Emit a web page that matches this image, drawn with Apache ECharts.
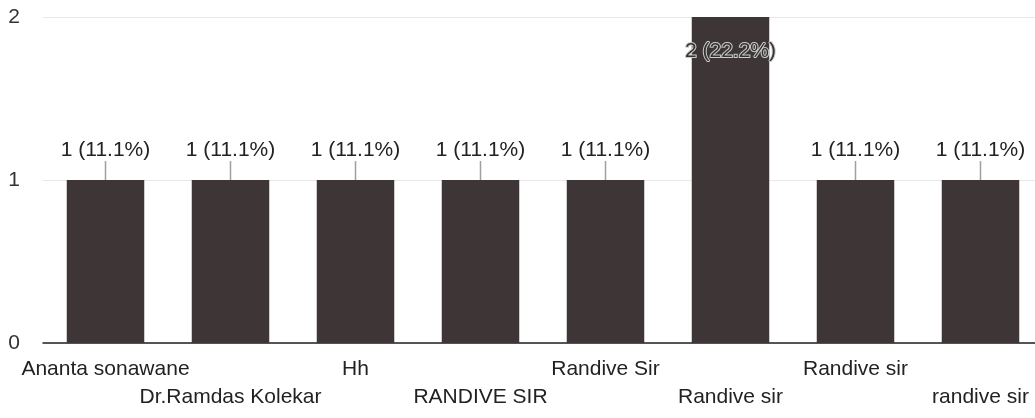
<!DOCTYPE html>
<html><head><meta charset="utf-8">
<script src="https://cdn.jsdelivr.net/npm/echarts@6/dist/echarts.min.js"></script>
<style>html,body{margin:0;padding:0;background:#fff;overflow:hidden}#c{width:1043px;height:418px}</style>
</head><body><div id="c"></div>
<script>
const categories = ["Ananta sonawane","Dr.Ramdas Kolekar","Hh","RANDIVE SIR","Randive Sir","Randive sir","Randive sir","randive sir"];
const counts = [1,1,1,1,1,2,1,1];
const percents = ["11.1%","11.1%","11.1%","11.1%","11.1%","22.2%","11.1%","11.1%"];
const yTicks = [0,1,2];

const chart = echarts.init(document.getElementById('c'));
const font = 'Liberation Sans, Arial, sans-serif';
chart.setOption({
  animation:false,
  grid:{left:43,right:0,top:17,bottom:75},
  xAxis:{type:'category',data:categories,
    axisLine:{lineStyle:{color:'#222',width:1.5}},axisTick:{show:false},
    axisLabel:{interval:0,color:'#222',fontSize:21,fontFamily:font,margin:12,lineHeight:28,
      formatter:(v,i)=> i%2===1 ? '\n'+v : v}},
  yAxis:{type:'value',min:0,max:2,interval:1,
    axisLabel:{color:'#333',fontSize:21,fontFamily:font,margin:23,formatter:v=>yTicks.includes(v)?String(v):''},
    splitLine:{lineStyle:{color:'#e8e8e8'}},axisLine:{show:false}},
  series:[{type:'bar',data:counts.map((v,i)=>{
      const d={value:v};
      if(v===2){d.label={position:'insideTop',distance:24,color:'#333',textBorderColor:'#ccc',textBorderWidth:2};}
      return d;}),
    barWidth:'62%',itemStyle:{color:'#3d3536'},
    label:{show:true,position:'top',distance:19,color:'#222',fontSize:21,fontFamily:font,
      formatter:p=>p.value+' ('+percents[p.dataIndex]+')'}},
    {type:'scatter',data:counts.map((v,i)=>v===2?null:v),symbol:'rect',symbolSize:[1.5,19],symbolOffset:[0,-9.5],
      itemStyle:{color:'#888'},silent:true,z:3}
  ]
});
</script></body></html>
